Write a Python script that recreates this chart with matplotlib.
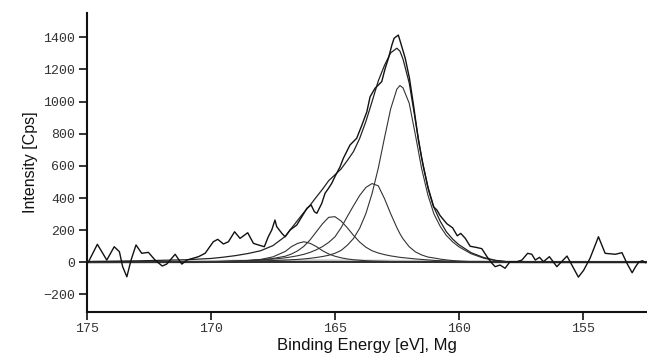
import matplotlib
matplotlib.use('Agg')
import matplotlib.pyplot as plt

# raw spectrum (binding energy, counts)
raw_be = [175.0, 174.96, 174.59, 174.21, 173.91, 173.70, 173.57, 173.40, 173.23, 173.03,
          172.80, 172.53, 172.26, 171.97, 171.79, 171.45, 171.18, 170.98, 170.51, 170.24,
          169.91, 169.73, 169.50, 169.30, 169.05, 168.83, 168.52, 168.29, 168.09, 167.85,
          167.69, 167.55, 167.42, 167.35, 167.14, 167.01, 166.81, 166.54, 166.13, 165.96,
          165.83, 165.73, 165.53, 165.40, 165.26, 165.13, 165.00, 164.79, 164.66, 164.39,
          164.12, 163.91, 163.71, 163.58, 163.38, 163.11, 162.97, 162.84, 162.70, 162.61,
          162.44, 162.34, 162.16, 161.99, 161.81, 161.63, 161.43, 161.22, 161.02, 160.88,
          160.75, 160.48, 160.25, 160.06, 159.92, 159.74, 159.54, 159.27, 159.07, 158.86,
          158.66, 158.53, 158.33, 158.13, 157.93, 157.65, 157.45, 157.22, 157.05, 156.91,
          156.74, 156.58, 156.34, 156.04, 155.63, 155.17, 154.96, 154.70, 154.36, 154.09,
          153.68, 153.41, 153.21, 153.00, 152.86, 152.74, 152.59, 152.45]
raw_cps = [0, 0, 112, 14, 97, 66, -27, -90, 14, 108,
           56, 62, 14, -23, -11, 50, -11, 14, 35, 56,
           128, 143, 114, 128, 190, 149, 184, 118, 108, 97,
           159, 201, 263, 222, 180, 159, 201, 232, 336, 357,
           315, 305, 367, 429, 460, 491, 533, 595, 647, 730,
           772, 854, 937, 1030, 1083, 1124, 1207, 1269, 1352, 1394,
           1414, 1363, 1269, 1145, 960, 760, 595, 450, 346, 325,
           290, 240, 215, 165, 180, 150, 100, 92, 85, 35,
           -6, -27, -17, -37, 4, 4, 14, 56, 50, 14,
           31, 4, 35, -27, 39, -92, -50, 25, 159, 56,
           50, 60, -6, -65, -27, 0, 10, -2]

# fit curves, common energy grid
fit_be = [175.0, 173.0, 171.0, 170.0, 169.5, 169.0, 168.5, 168.0, 167.5, 167.0,
          166.75, 166.5, 166.25, 166.0, 165.75, 165.5, 165.25, 165.0, 164.75, 164.5,
          164.25, 164.0, 163.75, 163.5, 163.25, 163.0, 162.75, 162.5, 162.375, 162.25,
          162.0, 161.75, 161.5, 161.25, 161.0, 160.75, 160.5, 160.25, 160.0, 159.5,
          159.0, 158.5, 158.0, 157.0, 155.0, 152.4]
peak1 = [1, 2, 3, 4, 5, 6, 7, 9, 11, 14,
         16, 18, 21, 25, 30, 36, 44, 56, 74, 106,
         148, 212, 303, 428, 585, 773, 954, 1077, 1100, 1085,
         990, 792, 584, 421, 300, 224, 167, 128, 97, 53,
         26, 10, 3, 1, 0, 0]
peak2 = [1, 1, 2, 4, 5, 7, 10, 14, 20, 28,
         34, 41, 50, 62, 78, 98, 124, 158, 215, 285,
         352, 416, 466, 490, 476, 397, 303, 216, 178, 146,
         97, 65, 46, 33, 27, 20, 15, 11, 8, 4,
         2, 1, 0, 0, 0, 0]
peak3 = [1, 2, 3, 5, 6, 8, 11, 16, 24, 38,
         52, 72, 100, 140, 190, 240, 280, 284, 257, 215,
         168, 126, 94, 72, 58, 48, 40, 34, 31, 29,
         25, 21, 18, 15, 12, 10, 8, 6, 5, 3,
         2, 1, 0, 0, 0, 0]
peak4 = [1, 1, 2, 4, 6, 8, 12, 18, 34, 68,
         98, 118, 128, 118, 98, 72, 52, 38, 28, 21,
         16, 13, 10, 8, 7, 6, 5, 4, 4, 3,
         3, 2, 2, 1, 1, 1, 0, 0, 0, 0,
         0, 0, 0, 0, 0, 0]
envelope = [5, 9, 16, 24, 32, 42, 55, 72, 104, 162,
            213, 262, 311, 356, 406, 455, 508, 544, 581, 633,
            689, 771, 876, 1000, 1128, 1225, 1303, 1332, 1314, 1264,
            1116, 881, 651, 471, 341, 256, 190, 145, 110, 60,
            30, 12, 3, 1, 0, 0]

# background (grey line near zero)
bg_be = [175.0, 171.0, 169.0, 166.0, 163.0, 160.0, 158.0, 157.0, 152.4]
bg_cps = [0, 3, 7, 9, 7, 4, 2, 0, 0]

x_ticks = [175, 170, 165, 160, 155]
y_ticks = [-200, 0, 200, 400, 600, 800, 1000, 1200, 1400]

fig = plt.figure(figsize=(6.47, 3.57), dpi=100)
ax = fig.add_axes([0.1348, 0.127, 0.8652, 0.8374])

ax.plot(bg_be, bg_cps, color='#c0c0c0', lw=2.2, zorder=1)
ax.axhline(0, color='#222222', lw=1.3, zorder=2)
for comp in [peak1, peak2, peak3, peak4]:
    ax.plot(fit_be, comp, color='#333333', lw=0.8, zorder=3)
ax.plot(fit_be, envelope, color='#222222', lw=0.9, zorder=4)
ax.plot(raw_be, raw_cps, color='#111111', lw=1.0, zorder=5)

ax.set_xlim(175, 152.4)
ax.set_ylim(-307, 1553)
ax.set_xticks(x_ticks)
ax.set_yticks(y_ticks)

for side in ['top', 'right']:
    ax.spines[side].set_visible(False)
for side in ['left', 'bottom']:
    ax.spines[side].set_linewidth(1.5)
    ax.spines[side].set_color('#111111')

ax.tick_params(axis='both', direction='out', length=5.5, width=1.2, color='#111111',
               labelsize=9.5, labelcolor='#333333', pad=3)
for lab in ax.get_xticklabels() + ax.get_yticklabels():
    lab.set_family('Liberation Mono')

ax.set_xlabel('Binding Energy [eV], Mg', family='Liberation Sans', fontsize=12, color='#111111', labelpad=2)
ax.set_ylabel('Intensity [Cps]', family='Liberation Sans', fontsize=11.5, color='#111111', labelpad=4)

plt.savefig('out.png', dpi=100)
plt.close()
